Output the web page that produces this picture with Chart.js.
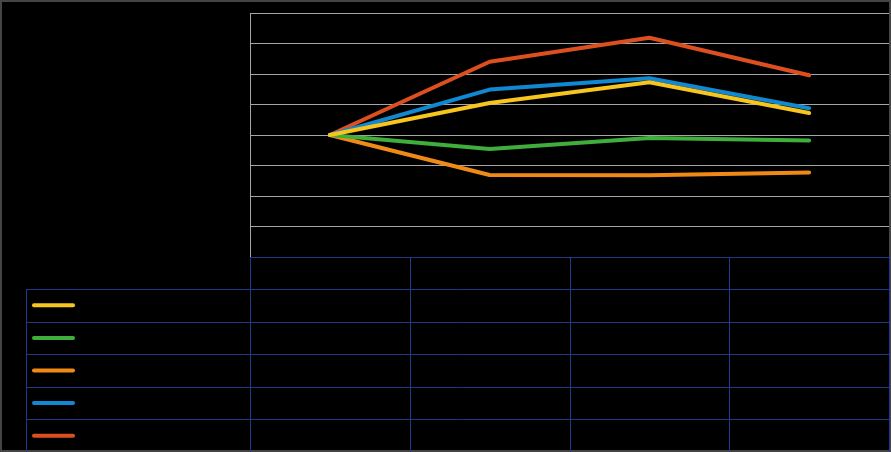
<!DOCTYPE html>
<html>
<head>
<meta charset="utf-8">
<script src="https://cdn.jsdelivr.net/npm/chart.js@4/dist/chart.umd.min.js"></script>
<style>
  html, body { margin: 0; padding: 0; background: #000; }
  canvas { display: block; }
</style>
</head>
<body>
<canvas id="myChart" width="891" height="452"></canvas>
<script>
// data (index, start = 100)
const categories = ['1', '2', '3', '4'];
const seriesNames = ['Serie 1', 'Serie 2', 'Serie 3', 'Serie 4', 'Serie 5'];
const yellowValues = [100, 110.5, 117.3, 107.2];
const greenValues  = [100, 95.4, 99.0, 98.2];
const orangeValues = [100, 86.9, 86.8, 87.7];
const blueValues   = [100, 114.9, 118.6, 108.8];
const redValues    = [100, 124.0, 131.9, 119.6];
const yMin = 60, yMax = 140, yStep = 10;

const colors = ['#f7c51e', '#3fae3c', '#f08a16', '#1188d2', '#dc5020'];
const gridColor = '#a6a6a6';
const tableColor = '#20398c';

const ctx = document.getElementById('myChart');

// black page + thin grey frame, like the exported picture
const backgroundPlugin = {
    id: 'background',
    beforeDraw(chart) {
        const c = chart.ctx;
        c.save();
        c.fillStyle = '#000';
        c.fillRect(0, 0, chart.width, chart.height);
        c.restore();
    },
    afterDraw(chart) {
        const c = chart.ctx;
        c.save();
        c.strokeStyle = '#454545';
        c.lineWidth = 2;
        c.strokeRect(1, 1, chart.width - 2, chart.height - 2);
        c.restore();
    }
};

// data table under the plot, columns follow the x scale
const dataTablePlugin = {
    id: 'dataTable',
    afterDraw(chart) {
        const c = chart.ctx;
        const x = chart.scales.x;
        const area = chart.chartArea;
        const step = x.getPixelForValue(1) - x.getPixelForValue(0);
        const colLeft = x.getPixelForValue(0) - step / 2;
        const colRight = x.getPixelForValue(categories.length - 1) + step / 2;
        const keyLeft = 26;
        const top = area.bottom;
        const headerH = 32;
        const rowH = (chart.height - top - headerH) / seriesNames.length;

        c.save();
        c.strokeStyle = tableColor;
        c.lineWidth = 1;
        c.beginPath();
        // header row top
        c.moveTo(colLeft, top + 0.5);
        c.lineTo(colRight, top + 0.5);
        for (let r = 0; r < seriesNames.length; r++) {
            const y = Math.round(top + headerH + r * rowH) + 0.5;
            c.moveTo(keyLeft, y);
            c.lineTo(colRight, y);
        }
        c.moveTo(keyLeft + 0.5, top + headerH);
        c.lineTo(keyLeft + 0.5, chart.height);
        for (let i = 0; i <= categories.length; i++) {
            const xx = Math.round(colLeft + i * step) + 0.5;
            c.moveTo(xx, top);
            c.lineTo(xx, chart.height);
        }
        c.stroke();

        // legend keys
        c.lineWidth = 4;
        c.lineCap = 'round';
        chart.data.datasets.forEach((ds, r) => {
            const y = top + headerH + r * rowH + rowH / 2;
            c.strokeStyle = ds.borderColor;
            c.beginPath();
            c.moveTo(34, y);
            c.lineTo(73, y);
            c.stroke();
        });
        c.restore();
    }
};

const values = [yellowValues, greenValues, orangeValues, blueValues, redValues];

const chart = new Chart(ctx, {
    type: 'line',
    data: {
        labels: categories,
        datasets: values.map((v, i) => ({
            label: seriesNames[i],
            data: v,
            borderColor: colors[i],
            backgroundColor: colors[i],
            borderWidth: 4,
            borderCapStyle: 'round',
            borderJoinStyle: 'round',
            pointRadius: 0,
            tension: 0
        }))
    },
    options: {
        responsive: false,
        animation: false,
        layout: {
            padding: { left: 250, right: 2, top: 13, bottom: 195 }
        },
        scales: {
            x: {
                display: false,
                offset: true
            },
            y: {
                min: yMin,
                max: yMax,
                ticks: { display: false, stepSize: yStep },
                grid: { color: gridColor, drawTicks: false, lineWidth: 1 },
                border: { display: true, color: gridColor }
            }
        },
        plugins: {
            legend: { display: false },
            tooltip: { enabled: false }
        }
    },
    plugins: [backgroundPlugin, dataTablePlugin]
});
</script>
</body>
</html>
